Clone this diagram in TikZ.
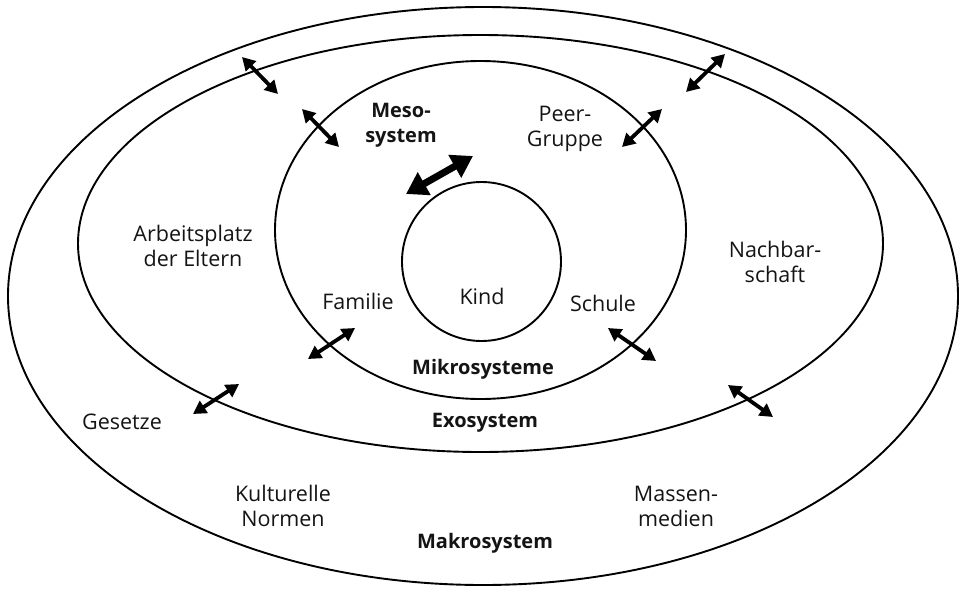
\documentclass[tikz,border=0pt]{standalone}
\usepackage{fontspec}
\setmainfont{Open Sans}
\usetikzlibrary{arrows.meta, shapes.geometric}

\begin{document}
\begin{tikzpicture}
  [
    x                 = 1pt,
    y                 = -1pt,
    ring/.style       = {draw, ellipse, line width=1.9pt, inner sep=0pt},
    txt/.style        = {font=\fontsize{21.5}{25}\selectfont, text=black!92, align=center, inner sep=0pt},
    sysname/.style    = {txt, font=\fontsize{20}{25}\selectfont\bfseries},
    link/.style       = {{Triangle[length=13pt, width=14pt]}-{Triangle[length=13pt, width=14pt]},
                         line width=3.8pt},
    biglink/.style    = {{Triangle[length=21pt, width=25pt]}-{Triangle[length=21pt, width=25pt]},
                         line width=7pt}
  ]

  \useasboundingbox (0,0) rectangle (961,589);

  % the nested systems
  \node[ring, minimum width=950pt, minimum height=578pt] (makro) at (483,296) {};
  \node[ring, minimum width=805pt, minimum height=417pt] (exo)   at (480.5,243.5) {};
  \node[ring, minimum width=411pt, minimum height=338pt] (meso)  at (480.5,230) {};
  \node[ring, circle, minimum size=159pt]               (kind)  at (481.5,261.5) {};

  % texts
  \node[txt]     (kindtxt)  at (482,296) {Kind};
  \node[sysname] (mesotxt)  at (401,125) {Meso-\\system};
  \node[txt]     (peer)     at (565,129) {Peer-\\Gruppe};
  \node[txt]     (arbeit)   at (193,246) {Arbeitsplatz\\der Eltern};
  \node[txt]     (nachbar)  at (775,262) {Nachbar-\\schaft};
  \node[txt]     (familie)  at (358,301) {Familie};
  \node[txt]     (schule)   at (603,303) {Schule};
  \node[sysname] (mikro)    at (483,369) {Mikrosysteme};
  \node[sysname] (exotxt)   at (485,423) {Exosystem};
  \node[txt]     (gesetze)  at (122,422) {Gesetze};
  \node[txt]     (kultur)   at (283,506) {Kulturelle\\Normen};
  \node[txt]     (medien)   at (676,506) {Massen-\\medien};
  \node[sysname] (makrotxt) at (485,543) {Makrosystem};

  % arrow ends
  \coordinate (tl-a) at (242,57);  \coordinate (tl-b) at (278,94);
  \coordinate (ml-a) at (302,109); \coordinate (ml-b) at (339,147);
  \coordinate (c-a)  at (406,194); \coordinate (c-b)  at (473,156);
  \coordinate (tr-a) at (686,92);  \coordinate (tr-b) at (725,54);
  \coordinate (pg-a) at (622,147); \coordinate (pg-b) at (662,109);
  \coordinate (fa-a) at (308,359); \coordinate (fa-b) at (355,328);
  \coordinate (ge-a) at (193,414); \coordinate (ge-b) at (239,384);
  \coordinate (sc-a) at (608,328); \coordinate (sc-b) at (656,361);
  \coordinate (br-a) at (728,385); \coordinate (br-b) at (773,417);

  % interactions
  \draw[link]    (tl-a) -- (tl-b);
  \draw[link]    (ml-a) -- (ml-b);
  \draw[biglink] (c-a)  -- (c-b);
  \draw[link]    (tr-a) -- (tr-b);
  \draw[link]    (pg-a) -- (pg-b);
  \draw[link]    (fa-a) -- (fa-b);
  \draw[link]    (ge-a) -- (ge-b);
  \draw[link]    (sc-a) -- (sc-b);
  \draw[link]    (br-a) -- (br-b);
\end{tikzpicture}
\end{document}
